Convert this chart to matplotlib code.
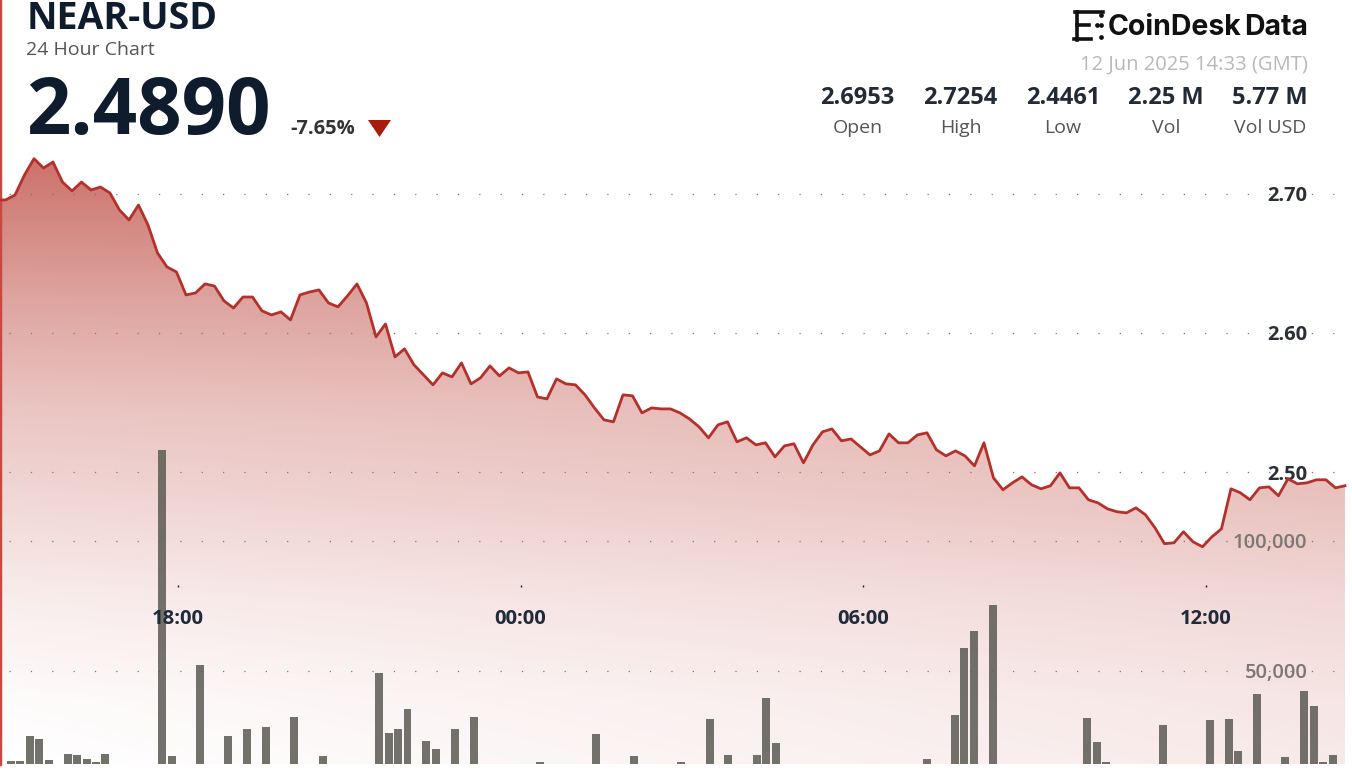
import numpy as np
import matplotlib
matplotlib.use("Agg")
import matplotlib.pyplot as plt
from matplotlib.patches import Polygon
from matplotlib.ticker import FuncFormatter

W, H = 1352, 770
CHART_W, CHART_H = 1347, 764

plt.rcParams["font.family"] = ["Open Sans", "DejaVu Sans"]
plt.rcParams["lines.scale_dashes"] = False

# price every ~10 minutes
prices = [
    2.6957, 2.6957, 2.6993, 2.7137, 2.7254, 2.7187, 2.7230, 2.7086, 2.7022, 2.7086,
    2.7029, 2.7050, 2.7007, 2.6885, 2.6813, 2.6921, 2.6777, 2.6576, 2.6475, 2.6439,
    2.6274, 2.6288, 2.6353, 2.6338, 2.6231, 2.6180, 2.6259, 2.6259, 2.6159, 2.6130,
    2.6152, 2.6094, 2.6274, 2.6295, 2.6310, 2.6216, 2.6188, 2.6267, 2.6353, 2.6216,
    2.5972, 2.6065, 2.5828, 2.5886, 2.5771, 2.5699, 2.5627, 2.5713, 2.5684, 2.5785,
    2.5634, 2.5677, 2.5763, 2.5691, 2.5749, 2.5713, 2.5720, 2.5540, 2.5526, 2.5670,
    2.5634, 2.5627, 2.5555, 2.5461, 2.5375, 2.5361, 2.5555, 2.5548, 2.5425, 2.5461,
    2.5454, 2.5454, 2.5425, 2.5382, 2.5325, 2.5246, 2.5339, 2.5361, 2.5217, 2.5246,
    2.5195, 2.5210, 2.5109, 2.5188, 2.5203, 2.5066, 2.5195, 2.5289, 2.5310, 2.5224,
    2.5238, 2.5181, 2.5123, 2.5152, 2.5274, 2.5210, 2.5210, 2.5267, 2.5282, 2.5159,
    2.5116, 2.5152, 2.5116, 2.5044, 2.5210, 2.4958, 2.4872, 2.4922, 2.4965, 2.4908,
    2.4879, 2.4901, 2.4994, 2.4886, 2.4886, 2.4800, 2.4778, 2.4735, 2.4714, 2.4706,
    2.4742, 2.4692, 2.4599, 2.4484, 2.4491, 2.4570, 2.4498, 2.4462, 2.4534, 2.4591,
    2.4879, 2.4850, 2.4800, 2.4886, 2.4893, 2.4829, 2.4951, 2.4915, 2.4922, 2.4944,
    2.4944, 2.4886, 2.4901,
]

# only the bars tall enough to show above the crop
vol_slots = [
    0, 1, 2, 3, 4, 6, 7, 8, 9, 10, 16, 17, 20, 23, 25, 27, 30, 33, 39, 40, 41, 42, 44,
    45, 47, 49, 56, 62, 66, 71, 74, 76, 79, 80, 81, 97, 100, 101, 102, 104, 114, 115,
    116, 122, 127, 129, 130, 132, 135, 137, 138, 139, 140,
]
volumes = [
    15400, 15400, 25000, 23800, 15800, 18100, 17700, 16200, 15000, 18100, 135000, 17300,
    52300, 25000, 27700, 28500, 32300, 17300, 49200, 26200, 27700, 35400, 23100,
    20000, 27700, 32300, 15000, 25800, 17300, 15000, 31500, 17700, 17700, 39600, 22300,
    16200, 33100, 58800, 65400, 75400, 31900, 22700,
    15000, 29200, 31200, 31500, 19200, 41200, 16900, 42300, 36500, 15000, 17700,
]

price_ticks = [2.70, 2.60, 2.50]
vol_ticks = [50000, 100000]
time_ticks = [0, 360, 720, 1080]  # minutes after 18:00
time_labels = ["18:00", "00:00", "06:00", "12:00"]

stat_values = ["2.6953", "2.7254", "2.4461", "2.25 M", "5.77 M"]
stat_names = ["Open", "High", "Low", "Vol", "Vol USD"]
stat_x = [857.5, 960.5, 1063, 1166, 1270]

DARK = "#0f1c2e"
LINE = "#b5302a"
BASE = np.array([184, 58, 48]) / 255


def px_text(x, y, s, **kw):
    kw.setdefault("va", "baseline")
    fig.text(x / W, 1 - y / H, s, **kw)


fig = plt.figure(figsize=(W / 100, H / 100), dpi=100, facecolor="white")
rect = [0, (H - CHART_H) / H, CHART_W / W, CHART_H / H]

ax_vol = fig.add_axes(rect)
ax = fig.add_axes(rect)
ax.patch.set_visible(False)

# scales: 139 px per 0.10 of price, 130 px per 50k of volume, 0.9514 px per minute
ax.set_ylim(2.70 - (CHART_H - 194) / 1390, 2.70 + 194 / 1390)
ax_vol.set_ylim((801 - CHART_H) * 384.6, 801 * 384.6)
xlim = (-178 / 0.9514, (CHART_W - 178) / 0.9514)
ax.set_xlim(xlim)
ax_vol.set_xlim(xlim)

price_t = -191.3 + 9.985 * np.arange(len(prices))
vol_t = -175.5 + 9.922 * np.array(vol_slots)

# gradient under the line
yy = np.arange(CHART_H)
alpha_y = np.interp(yy, [160, 300, 410, 500, 600, 700, 764], [0.72, 0.46, 0.29, 0.20, 0.09, 0.02, 0.0])
xx = np.linspace(0, 1, 300)
alpha = alpha_y[:, None] + (0.11 * xx)[None, :] * np.clip((yy[:, None] - 200) / 300, 0, 1)
img = np.ones((CHART_H, 300, 4))
img[..., :3] = BASE
img[..., 3] = np.clip(alpha, 0, 1)
im = ax_vol.imshow(img, extent=(*xlim, *ax_vol.get_ylim()), aspect="auto", origin="upper", zorder=1)
area = ax.fill_between(price_t, prices, ax.get_ylim()[0], color="none", lw=0)
im.set_clip_path(area.get_paths()[0], transform=ax.transData)

# dotted grid, 21.35 px apart
dots = (12.35 * 0.72, (0.9, 21.35 * 0.72 - 0.9))
for v in vol_ticks:
    ax_vol.axhline(v, color="#77777a", lw=0.9, ls=(dots[0], dots[1]), zorder=2)
for v in price_ticks:
    ax.axhline(v, color="#77777a", lw=0.9, ls=(dots[0], dots[1]), zorder=1)

ax_vol.bar(vol_t, volumes, width=8.4, color="#5a5a52", alpha=0.85, zorder=3)
ax.plot(price_t, prices, color=LINE, lw=2.0, solid_joinstyle="round", zorder=3)

for a in (ax, ax_vol):
    for s in a.spines.values():
        s.set_visible(False)
ax.spines["left"].set_visible(True)
ax.spines["left"].set_color("#c8493f")
ax.spines["left"].set_linewidth(3.2)

ax_vol.set_xticks([])
ax_vol.yaxis.tick_right()
ax_vol.set_yticks(vol_ticks)
ax_vol.yaxis.set_major_formatter(FuncFormatter(lambda v, _: f"{v:,.0f}"))
ax_vol.tick_params(axis="y", length=0, pad=-28.5, labelsize=14.5, labelcolor="#7d7674")
for t in ax_vol.get_yticklabels():
    t.set_ha("right")
    t.set_fontweight("semibold")

ax.yaxis.tick_right()
ax.set_yticks(price_ticks)
ax.yaxis.set_major_formatter(FuncFormatter(lambda v, _: f"{v:.2f}"))
ax.tick_params(axis="y", length=0, pad=-28.5, labelsize=14.5, labelcolor="#2a2f38")
for t in ax.get_yticklabels():
    t.set_ha("right")
    t.set_fontweight("bold")

ax.spines["bottom"].set_position(("axes", (CHART_H - 585) / CHART_H))
ax.set_xticks(time_ticks, time_labels)
ax.tick_params(axis="x", length=1.5, width=1, color=DARK, pad=16, labelsize=14.5, labelcolor="#1f2a3a")
for t in ax.get_xticklabels():
    t.set_fontweight("bold")

# header
px_text(27, 29, "NEAR-USD", fontsize=27, fontweight="bold", color=DARK)
px_text(26, 55, "24 Hour Chart", fontsize=14, color="#555555")
px_text(26, 134, "2.4890", fontsize=56, fontweight="bold", color=DARK)
px_text(290, 134, "-7.65%", fontsize=14.5, fontweight="bold", color="#333333")
tri = [(368 / W, 1 - 120 / H), (391 / W, 1 - 120 / H), (379.5 / W, 1 - 137 / H)]
fig.add_artist(Polygon(tri, closed=True, color="#a81c0b", transform=fig.transFigure, lw=0))

# logo
px_text(1108, 35, "CoinDesk", fontsize=20.5, fontweight="bold", family="Inter", color="#111111")
px_text(1308, 35, "Data", fontsize=20.5, fontweight="bold", family="Inter", color="#111111", ha="right")
for xs, ys in [([1075, 1103], [12, 12]), ([1077, 1077], [12, 40]), ([1074, 1091], [39, 39]), ([1077, 1089], [25, 25])]:
    fig.add_artist(plt.Line2D([x / W for x in xs], [1 - y / H for y in ys], color="#111111", lw=2.6, transform=fig.transFigure))
for dx, dy in [(1097, 25), (1101, 25), (1101, 37), (1101, 15)]:
    fig.add_artist(plt.Line2D([dx / W], [1 - dy / H], marker="o", ms=2.4, color="#111111", transform=fig.transFigure))

px_text(1308, 70, "12 Jun 2025 14:33 (GMT)", fontsize=14.5, color="#b8b8b8", ha="right")

for x, val, name in zip(stat_x, stat_values, stat_names):
    px_text(x, 104, val, fontsize=17, fontweight="bold", color="#222a35", ha="center")
    px_text(x, 133, name, fontsize=14, color="#555555", ha="center")

fig.savefig("out.png", dpi=100)
